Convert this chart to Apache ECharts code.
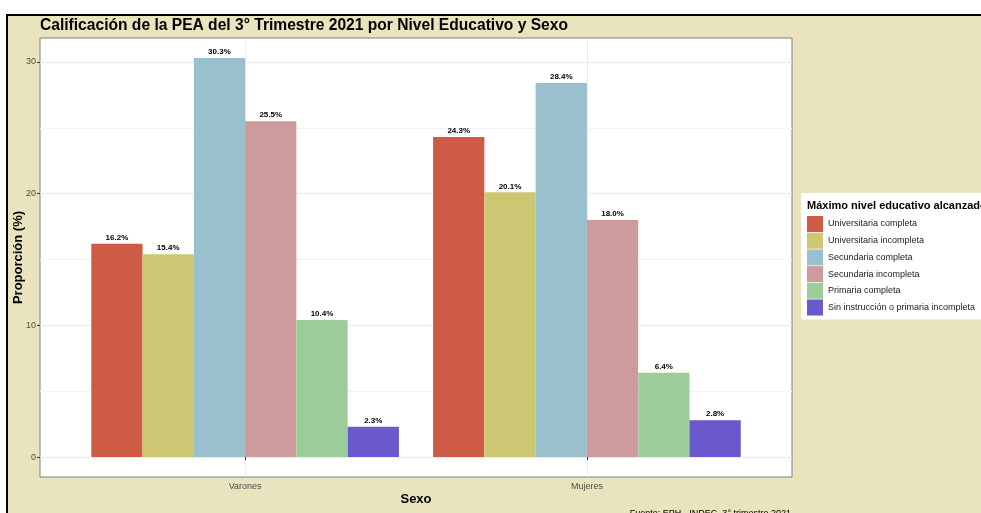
<!DOCTYPE html>
<html>
<head>
<meta charset="utf-8">
<script src="https://cdn.jsdelivr.net/npm/echarts@6/dist/echarts.min.js"></script>
<style>
html,body{margin:0;padding:0;background:#fff;}
#frame{position:absolute;left:6px;top:14px;width:975px;height:499px;background:#e9e4bd;border-left:2px solid #000;border-top:2px solid #000;box-sizing:border-box;}
#chart{position:absolute;left:0;top:0;width:981px;height:513px;}
</style>
</head>
<body>
<div id="frame"></div>
<div id="chart"></div>
<script>
const categories = ['Varones', 'Mujeres'];
const seriesNames = ['Universitaria completa', 'Universitaria incompleta', 'Secundaria completa', 'Secundaria incompleta', 'Primaria completa', 'Sin instrucción o primaria incompleta'];
const univCompleta = [16.2, 24.3];
const univIncompleta = [15.4, 20.1];
const secCompleta = [30.3, 28.4];
const secIncompleta = [25.5, 18.0];
const primCompleta = [10.4, 6.4];
const sinInstruccion = [2.3, 2.8];
const yTickLabels = [0, 10, 20, 30];
const yMinorBreaks = [5, 15, 25];

const values = [univCompleta, univIncompleta, secCompleta, secIncompleta, primCompleta, sinInstruccion];
const colors = ['#cd5b45', '#cdc673', '#9ac0cd', '#cd9b9b', '#9bcd9b', '#6959cd'];
const FONT = 'Liberation Sans, Arial, sans-serif';

const yMin = -1.515, yMax = 31.815;

const chart = echarts.init(document.getElementById('chart'), null, {renderer: 'canvas'});
const series = values.map((arr, i) => ({
  name: seriesNames[i],
  type: 'bar',
  xAxisIndex: 0,
  yAxisIndex: 0,
  barGap: '0%',
  barCategoryGap: '10%',
  itemStyle: {color: colors[i]},
  label: {
    show: true, position: 'top', distance: 2,
    fontFamily: FONT, fontSize: 8, fontWeight: 'bold', color: '#000',
    formatter: p => p.value[1].toFixed(1) + '%'
  },
  data: arr.map((v, j) => [j + 1, v])
}));

chart.setOption({
  backgroundColor: 'transparent',
  animation: false,
  title: [
    {text: 'Calificación de la PEA del 3° Trimestre 2021 por Nivel Educativo y Sexo', left: 40, top: 18, padding: 0,
     textStyle: {fontFamily: FONT, fontSize: 15.6, fontWeight: 'bold', color: '#000'}},
    {text: 'Máximo nivel educativo alcanzado', left: 807, top: 200, padding: 0, z: 10,
     textStyle: {fontFamily: FONT, fontSize: 11, fontWeight: 'bold', color: '#000'}},
    {text: 'Fuente: EPH - INDEC, 3° trimestre 2021', right: 190, top: 509, padding: 0,
     textStyle: {fontFamily: FONT, fontSize: 9, fontWeight: 'normal', color: '#000'}}
  ],
  legend: {
    orient: 'vertical', left: 801, top: 193,
    padding: [23, 10, 4, 6],
    backgroundColor: '#fff',
    itemWidth: 16, itemHeight: 16, itemGap: 0.7,
    icon: 'rect',
    selectedMode: false,
    textStyle: {fontFamily: FONT, fontSize: 9, color: '#1a1a1a'},
    data: seriesNames
  },
  grid: {left: 40, right: 189, top: 38, bottom: 36, outerBoundsMode: 'none', containLabel: false, show: true, backgroundColor: '#fff', borderColor: '#7f7f7f', borderWidth: 1},
  xAxis: {
    type: 'value', min: 0.4, max: 2.6,
    name: 'Sexo', nameLocation: 'middle', nameGap: 16, nameMoveOverlap: false,
    nameTextStyle: {fontFamily: FONT, fontSize: 13, fontWeight: 'bold', color: '#000'},
    axisLine: {show: false},
    axisTick: {show: true, length: 3, customValues: [1, 2], lineStyle: {color: '#333'}},
    axisLabel: {customValues: [1, 2], formatter: v => categories[Math.round(v) - 1], fontFamily: FONT, fontSize: 9, color: '#4d4d4d', margin: 5},
    splitLine: {show: true, lineStyle: {color: '#ebebeb', width: 1}}
  },
  yAxis: [
    {
      type: 'value', min: yMin, max: yMax,
      name: 'Proporción (%)', nameLocation: 'middle', nameGap: 15, nameMoveOverlap: false,
      nameTextStyle: {fontFamily: FONT, fontSize: 13, fontWeight: 'bold', color: '#000'},
      axisLine: {show: false},
      axisTick: {show: true, length: 3, customValues: yTickLabels, lineStyle: {color: '#333'}},
      axisLabel: {customValues: yTickLabels, fontFamily: FONT, fontSize: 9, color: '#4d4d4d', margin: 4},
      splitLine: {show: true, lineStyle: {color: '#ebebeb', width: 1}}
    },
    {
      type: 'value', min: yMin, max: yMax, position: 'left',
      axisLine: {show: false},
      axisTick: {show: false, customValues: yMinorBreaks},
      axisLabel: {show: false, customValues: yMinorBreaks},
      splitLine: {show: true, lineStyle: {color: '#f2f2f2', width: 1}}
    }
  ],
  series: series
});
</script>
</body>
</html>
